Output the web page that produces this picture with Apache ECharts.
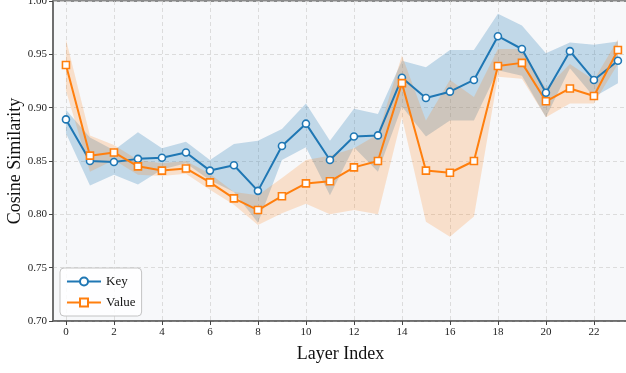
<!DOCTYPE html>
<html>
<head>
<meta charset="utf-8">
<script src="https://cdn.jsdelivr.net/npm/echarts@6/dist/echarts.min.js"></script>
<style>
  html, body { margin: 0; padding: 0; background: #ffffff; }
  #chart { width: 626px; height: 373px; }
</style>
</head>
<body>
<div id="chart"></div>
<script>
// Layer-wise cosine similarity of key / value states (mean with min-max band)
const layers = [0,1,2,3,4,5,6,7,8,9,10,11,12,13,14,15,16,17,18,19,20,21,22,23];
const xTicks = [0,2,4,6,8,10,12,14,16,18,20,22];

const keyMean = [0.889,0.850,0.849,0.852,0.853,0.858,0.841,0.846,0.822,0.864,0.885,0.851,
                 0.873,0.874,0.928,0.909,0.915,0.926,0.967,0.955,0.914,0.953,0.926,0.944];
const keyLow  = [0.876,0.827,0.837,0.828,0.842,0.848,0.832,0.821,0.792,0.851,0.863,0.818,
                 0.863,0.840,0.901,0.873,0.888,0.888,0.935,0.930,0.891,0.937,0.910,0.923];
const keyHigh = [0.898,0.872,0.860,0.877,0.862,0.868,0.851,0.866,0.869,0.880,0.904,0.869,
                 0.899,0.894,0.944,0.938,0.954,0.954,0.988,0.977,0.951,0.961,0.959,0.962];

const valueMean = [0.940,0.855,0.858,0.845,0.841,0.843,0.830,0.815,0.804,0.817,0.829,0.831,
                   0.844,0.850,0.923,0.841,0.839,0.850,0.939,0.942,0.906,0.918,0.911,0.954];
const valueLow  = [0.916,0.840,0.851,0.837,0.836,0.838,0.823,0.809,0.790,0.801,0.810,0.800,
                   0.804,0.800,0.891,0.793,0.779,0.798,0.929,0.927,0.891,0.904,0.904,0.941];
const valueHigh = [0.964,0.874,0.865,0.851,0.848,0.850,0.838,0.821,0.818,0.834,0.851,0.855,
                   0.862,0.875,0.949,0.888,0.926,0.910,0.955,0.955,0.918,0.941,0.926,0.964];

const KEY_COLOR = '#1f77b4';
const VALUE_COLOR = '#ff7f0e';
const SERIF = '"Liberation Serif", "DejaVu Serif", serif';

// Shaded band between low and high, drawn as one polygon in data coordinates
function band(name, low, high, fill) {
  return {
    name: name + ' range',
    type: 'custom',
    silent: true,
    z: 1,
    data: layers.map((x, i) => [x, low[i], high[i]]),
    encode: { x: 0, y: [1, 2] },
    renderItem: function (params, api) {
      if (params.dataIndex !== 0) return null;
      const pts = [];
      for (let i = 0; i < layers.length; i++) pts.push(api.coord([layers[i], high[i]]));
      for (let i = layers.length - 1; i >= 0; i--) pts.push(api.coord([layers[i], low[i]]));
      return { type: 'polygon', shape: { points: pts }, style: { fill: fill } };
    }
  };
}

function meanLine(name, values, color, symbol) {
  return {
    name: name,
    type: 'line',
    z: 3,
    data: layers.map((x, i) => [x, values[i]]),
    symbol: symbol,
    symbolSize: 7,
    showAllSymbol: true,
    lineStyle: { color: color, width: 2 },
    itemStyle: { color: '#ffffff', borderColor: color, borderWidth: 1.6 }
  };
}

const chart = echarts.init(document.getElementById('chart'), null, { renderer: 'canvas' });
chart.setOption({
  animation: false,
  backgroundColor: '#ffffff',
  grid: {
    left: 53, right: -2, top: 1, bottom: 52,
    outerBoundsMode: 'none',
    containLabel: false,
    show: true,
    backgroundColor: '#f7f8fa',
    borderColor: '#666666',
    borderWidth: 1.5
  },
  legend: {
    data: ['Key', 'Value'],
    orient: 'vertical',
    left: 60, top: 268,
    itemWidth: 34, itemHeight: 10, itemGap: 8,
    padding: [7, 6, 7, 6],
    backgroundColor: 'rgba(255,255,255,0.85)',
    borderColor: '#c4c4c4', borderWidth: 1, borderRadius: 4,
    textStyle: { fontFamily: SERIF, fontSize: 13, color: '#111' }
  },
  xAxis: {
    type: 'value',
    min: -0.54, max: 23.42,
    name: 'Layer Index',
    nameLocation: 'middle',
    nameGap: 24,
    nameMoveOverlap: false,
    nameTextStyle: { fontFamily: SERIF, fontSize: 18, color: '#111' },
    axisLine: { show: true, onZero: false, lineStyle: { color: '#666666', width: 1.5 } },
    axisTick: { show: true, length: 4, customValues: xTicks, lineStyle: { color: '#444' } },
    axisLabel: { customValues: xTicks, fontFamily: SERIF, fontSize: 11, color: '#222', margin: 6 },
    splitLine: { show: true, lineStyle: { color: '#d4d4d4', type: [4, 3], width: 0.8 } }
  },
  yAxis: {
    type: 'value',
    min: 0.70, max: 1.00, interval: 0.05,
    name: 'Cosine Similarity',
    nameLocation: 'middle',
    nameGap: 29,
    nameMoveOverlap: false,
    nameTextStyle: { fontFamily: SERIF, fontSize: 18, color: '#111' },
    axisLine: { show: true, onZero: false, lineStyle: { color: '#666666', width: 1.5 } },
    axisTick: { show: true, length: 4, lineStyle: { color: '#444' } },
    axisLabel: { fontFamily: SERIF, fontSize: 11, color: '#222', margin: 6,
                 formatter: v => v.toFixed(2) },
    splitLine: { show: true, lineStyle: { color: '#d4d4d4', type: [4, 3], width: 0.8 } }
  },
  series: [
    band('Key', keyLow, keyHigh, 'rgba(31,119,180,0.25)'),
    band('Value', valueLow, valueHigh, 'rgba(255,127,14,0.2)'),
    meanLine('Key', keyMean, KEY_COLOR, 'circle'),
    meanLine('Value', valueMean, VALUE_COLOR, 'rect')
  ]
});
</script>
</body>
</html>
